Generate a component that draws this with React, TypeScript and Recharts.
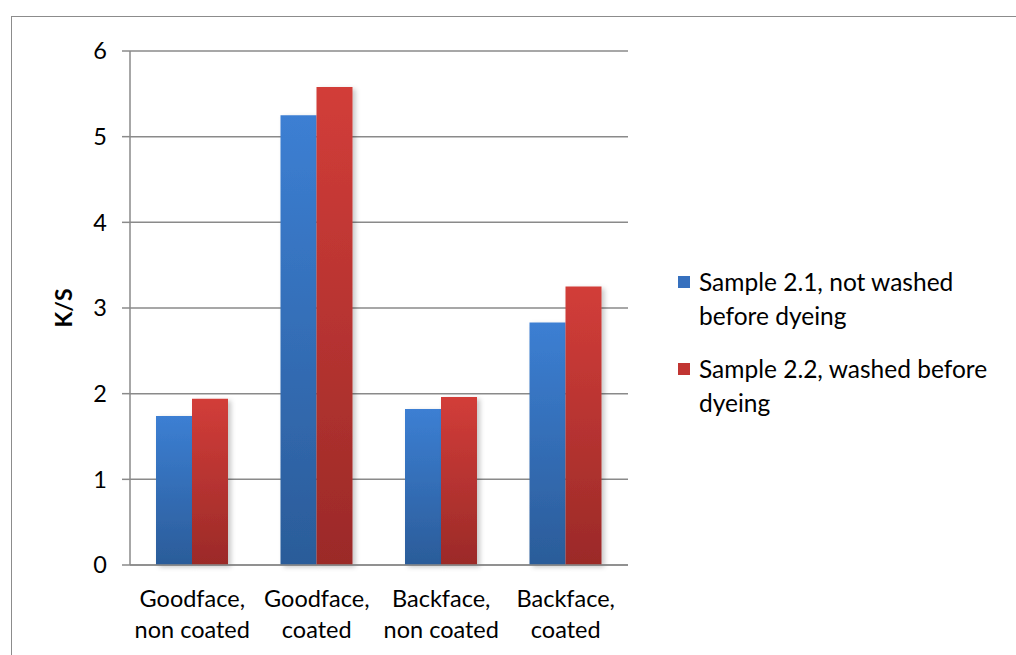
import React from "react";
import { BarChart, Bar, XAxis, YAxis, CartesianGrid, Label } from "recharts";

const categories = [
  "Goodface, non coated",
  "Goodface, coated",
  "Backface, non coated",
  "Backface, coated",
];
const sample21 = [1.74, 5.25, 1.82, 2.83];
const sample22 = [1.94, 5.58, 1.96, 3.25];
const yTicks = [0, 1, 2, 3, 4, 5, 6];

const series = [
  { key: "s21", name: "Sample 2.1, not washed before dyeing", lines: ["Sample 2.1, not washed", "before dyeing"], values: sample21, top: "#3c7fd3", bottom: "#2b5c99", legend: "#3670be" },
  { key: "s22", name: "Sample 2.2, washed before dyeing", lines: ["Sample 2.2, washed before", "dyeing"], values: sample22, top: "#d23d39", bottom: "#9b2a28", legend: "#c13532" },
];

const data = categories.map((c, i) => {
  const row: any = { category: c };
  series.forEach((s) => (row[s.key] = s.values[i]));
  return row;
});

const FONT = "Lato, 'Open Sans', sans-serif";
const GRID = "#8a8a8a";

const XTick = (props: any) => {
  const { x, y, payload } = props;
  const text: string = payload.value;
  const idx = text.indexOf(", ");
  const l1 = idx >= 0 ? text.slice(0, idx + 1) : text;
  const l2 = idx >= 0 ? text.slice(idx + 2) : "";
  return (
    <text x={x} y={y} textAnchor="middle" fill="#000" fontSize={23.5} fontFamily={FONT}>
      <tspan x={x} dy={34}>{l1}</tspan>
      <tspan x={x} dy={31}>{l2}</tspan>
    </text>
  );
};

export default function App() {
  return (
    <div style={{ position: "fixed", left: 0, top: 0, width: 1016, height: 655, overflow: "hidden", background: "#fff", fontFamily: FONT }}>
      <div style={{ position: "absolute", left: 11, top: 16, width: 1100, height: 800, border: "1.5px solid #8c8c8c", boxSizing: "border-box" }} />
      <div style={{ position: "absolute", left: 0, top: 0 }}>
        <BarChart width={1016} height={655} data={data} margin={{ top: 51, right: 388, bottom: 0, left: 0 }} barSize={36} barGap={0}>
          <defs>
            {series.map((s) => (
              <linearGradient key={s.key} id={`grad-${s.key}`} x1="0" y1="0" x2="0" y2="1">
                <stop offset="0%" stopColor={s.top} />
                <stop offset="100%" stopColor={s.bottom} />
              </linearGradient>
            ))}
            <filter id="barShadow" x="-20%" y="-5%" width="150%" height="115%">
              <feDropShadow dx="3" dy="2" stdDeviation="2.5" floodColor="#000" floodOpacity="0.22" />
            </filter>
          </defs>
          <CartesianGrid vertical={false} stroke={GRID} strokeWidth={1.5} />
          <XAxis dataKey="category" height={90} tickLine={false} axisLine={{ stroke: GRID, strokeWidth: 1.5 }} tick={<XTick />} interval={0} />
          <YAxis
            width={130}
            domain={[0, 6]}
            ticks={yTicks}
            tickSize={8}
            tickMargin={15}
            axisLine={{ stroke: GRID, strokeWidth: 1.5 }}
            tickLine={{ stroke: GRID, strokeWidth: 1.5 }}
            tick={{ fill: "#000", fontSize: 23.5, fontFamily: FONT }}
          >
            <Label value="K/S" angle={-90} position="insideLeft" offset={64} style={{ fontSize: 23, fontWeight: 700, fill: "#000", fontFamily: FONT, textAnchor: "middle" }} />
          </YAxis>
          {series.map((s) => (
            <Bar key={s.key} dataKey={s.key} name={s.name} fill={`url(#grad-${s.key})`} filter="url(#barShadow)" isAnimationActive={false} />
          ))}
        </BarChart>
      </div>
      <div style={{ position: "absolute", left: 678, top: 265 }}>
        {series.map((s, i) => (
          <div key={s.key} style={{ position: "relative", height: 87, fontSize: 24.5, lineHeight: "34px", color: "#000" }}>
            <div style={{ position: "absolute", left: 0, top: 11, width: 12, height: 12, background: s.legend }} />
            <div style={{ position: "absolute", left: 21, top: 0, whiteSpace: "nowrap" }}>
              {s.lines.map((l, j) => (
                <div key={j}>{l}</div>
              ))}
            </div>
          </div>
        ))}
      </div>
    </div>
  );
}
